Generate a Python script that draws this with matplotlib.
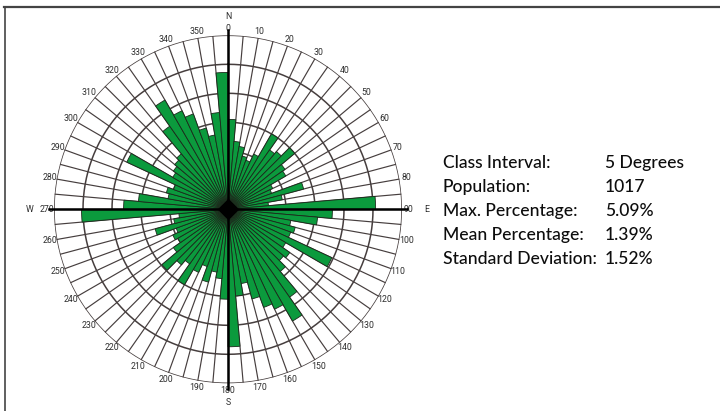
import numpy as np
import matplotlib
matplotlib.use("Agg")
import matplotlib.pyplot as plt
from matplotlib.lines import Line2D

# ---- data (percent per 5-degree class, classes start at 0,5,...,355) ----
bin_starts = list(range(0, 360, 5))
percent = [
    3.10, 2.35, 2.20, 1.90, 1.80, 2.10, 3.00, 2.50, 2.60, 3.00,   # 0-45
    2.40, 2.30, 1.70, 1.60, 2.70, 1.90, 1.40, 5.09, 3.60, 3.10,   # 50-95
    2.20, 2.40, 2.30, 3.95, 2.30, 2.60, 2.50, 2.80, 3.70, 4.45,   # 100-145
    3.80, 3.60, 3.20, 2.60, 3.00, 4.74, 3.10, 2.40, 2.20, 2.60,   # 150-195
    2.10, 2.40, 3.00, 2.30, 2.50, 2.97, 2.30, 2.00, 2.10, 1.90,   # 200-245
    2.60, 1.90, 1.70, 5.05, 3.60, 3.10, 2.10, 2.20, 2.00, 3.85,   # 250-295
    2.20, 2.30, 2.40, 2.50, 3.50, 4.35, 3.75, 3.50, 2.90, 2.60,   # 300-345
    3.35, 4.72,                                                   # 350-355
]
degree_labels = [str(a) for a in range(0, 360, 10)]
degree_ticks = list(range(0, 360, 10))
cardinal_labels = ["N", "E", "S", "W"]
cardinal_angles = [0, 90, 180, 270]
ring_values = [1, 2, 3, 4, 5, 6]
stat_names = ["Class Interval:", "Population:", "Max. Percentage:",
              "Mean Percentage:", "Standard Deviation:"]
stat_values = ["5 Degrees", "1017", "5.09%", "1.39%", "1.52%"]

W, H, DPI = 720, 411, 100
fig = plt.figure(figsize=(W / DPI, H / DPI), dpi=DPI)
fig.patch.set_facecolor("white")

# frame lines (top and left)
fig.add_artist(Line2D([4 / W, 1.0], [1 - 7 / H, 1 - 7 / H], color="#444444", lw=1.6,
                      transform=fig.transFigure))
fig.add_artist(Line2D([5 / W, 5 / W], [0, 1 - 7 / H], color="#444444", lw=1.2,
                      transform=fig.transFigure))

cx, cy, R = 228 / W, 1 - 209.3 / H, 174
ax = fig.add_axes([cx - R / W, cy - R / H, 2 * R / W, 2 * R / H], projection="polar")
ax.set_theta_zero_location("N")
ax.set_theta_direction(-1)
rmax = ring_values[-1]
ax.set_ylim(0, rmax)
ax.set_xticks([])
ax.set_yticks([])
ax.grid(False)
ax.spines["polar"].set_visible(False)
ax.set_facecolor("none")

grid_col = "#463e3e"
th = np.linspace(0, 2 * np.pi, 721)
for r in ring_values:
    ax.plot(th, np.full_like(th, r), color=grid_col, lw=1.1, zorder=1)
for a in bin_starts:
    t = np.deg2rad(a)
    ax.plot([t, t], [0, rmax], color=grid_col, lw=0.85, zorder=1)

theta = np.deg2rad(np.array(bin_starts) + 2.5)
ax.bar(theta, percent, width=np.deg2rad(5), bottom=0, color="#0b9a3d",
       edgecolor="#1c2a1c", linewidth=0.6, zorder=2)

# main axes lines
for a in [0, 90]:
    t1 = np.deg2rad(a)
    t2 = np.deg2rad(a + 180)
    ax.plot([t1, t1], [0, rmax * 1.03], color="black", lw=1.8, zorder=4, clip_on=False)
    ax.plot([t2, t2], [0, rmax * 1.03], color="black", lw=1.8, zorder=4, clip_on=False)

# centre blob
ax.scatter([0], [0], s=100, color="black", marker="D", zorder=5, clip_on=False)

lab_font = ["Roboto", "DejaVu Sans"]
for a, lab in zip(degree_ticks, degree_labels):
    ax.text(np.deg2rad(a), rmax * 1.04, lab, ha="center", va="center",
            fontsize=6.3, color="#2e2e2e", family=lab_font, clip_on=False)
for a, lab in zip(cardinal_angles, cardinal_labels):
    rr = rmax * (1.11 if a in (0, 180) else 1.14)
    ax.text(np.deg2rad(a), rr, lab, ha="center", va="center",
            fontsize=6.3, color="#2e2e2e", family=lab_font, clip_on=False)

# statistics block
stat_font = ["Lato", "DejaVu Sans"]
y0 = 163
for i, (n, v) in enumerate(zip(stat_names, stat_values)):
    y = 1 - (y0 + i * 24) / H
    fig.text(443 / W, y, n, ha="left", va="center", fontsize=12.6, color="#0d0d0d",
             family=stat_font, fontweight="medium")
    fig.text(605 / W, y, v, ha="left", va="center", fontsize=12.6, color="#0d0d0d",
             family=stat_font, fontweight="medium")

fig.savefig("out.png", dpi=DPI)
